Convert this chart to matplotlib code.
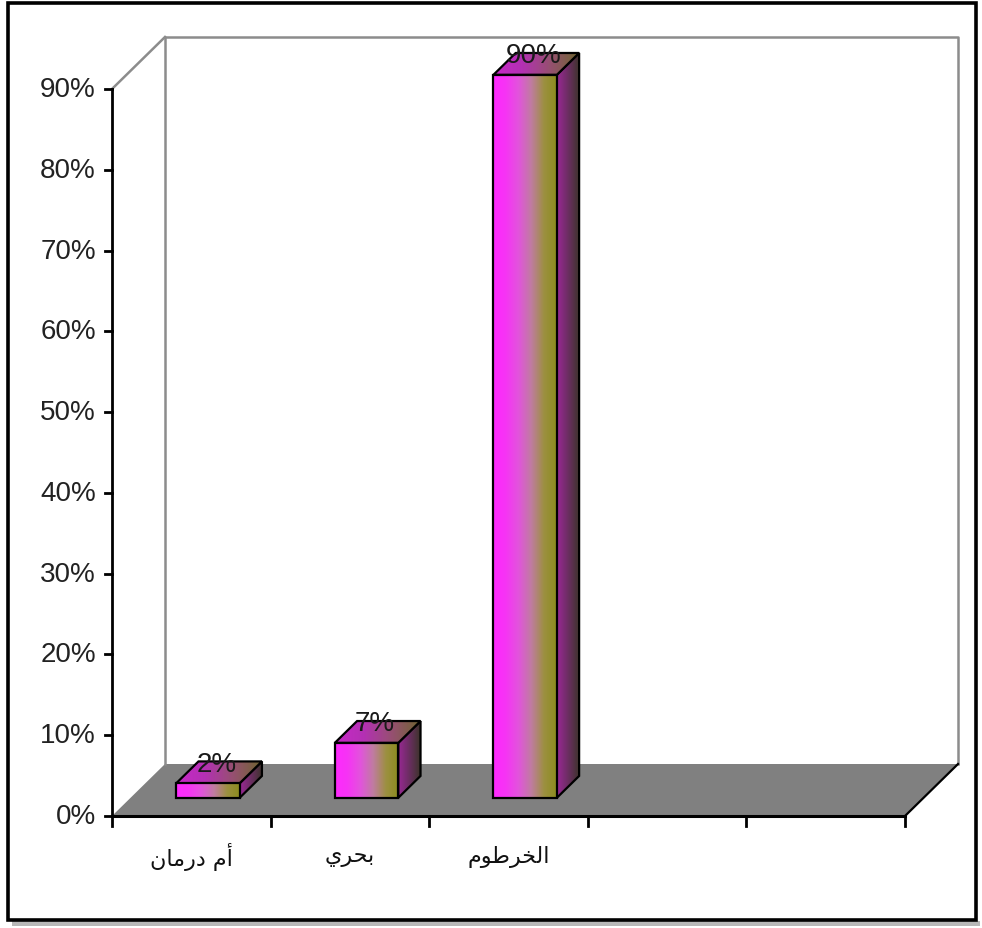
import numpy as np
import matplotlib.pyplot as plt
from matplotlib.colors import LinearSegmentedColormap
from matplotlib.patches import Polygon, Rectangle

# category names: أم درمان / بحري / الخرطوم
# (Arabic presentation forms in display order, matplotlib has no shaping)
categories = ['\uFEE5\uFE8E\uFEE3\uFEAD\uFEA9 \uFEE1\uFE83',
              '\uFEF1\uFEAE\uFEA4\uFE91',
              '\uFEE1\uFEEE\uFEC3\uFEAE\uFEA8\uFEDF\uFE8D']
values = [1.8, 6.8, 89.5]
value_labels = [f'{round(v)}%' for v in values]
yticks = [0, 10, 20, 30, 40, 50, 60, 70, 80, 90]
ytick_labels = [f'{t}%' for t in yticks]
n_slots = 5

W, H = 982, 929
PX_X = 158.6      # pixels per category slot
PX_Y = 8.078      # pixels per percent
X0_PX, Y0_PX = 112, 817   # front origin in pixels (from top-left)

DX = 53 / PX_X    # depth offset of the back wall
DY = 52 / PX_Y
f0, f1 = 0.35, 0.77   # bar front / back depth fraction
bar_w = 0.40

num_font = ['Liberation Sans Narrow', 'Liberation Sans', 'DejaVu Sans']

front_cm = LinearSegmentedColormap.from_list('front', ['#ff28ff', '#f634f4', '#e254dc', '#c07ca0', '#9c9040', '#8c8c1e'])
top_cm = LinearSegmentedColormap.from_list('top', ['#c828c8', '#b430b4', '#965070', '#6e6630'])
side_cm = LinearSegmentedColormap.from_list('side', ['#9a2896', '#6a2e60', '#3a3428'])

fig = plt.figure(figsize=(W / 100, H / 100), dpi=100)
ax = fig.add_axes([0, 0, 1, 1])
ax.axis('off')


def grad_fill(verts, cmap, z):
    poly = Polygon(verts, closed=True, fc='none', ec='black', lw=1.6, zorder=z + 0.5)
    ax.add_patch(poly)
    xs = [p[0] for p in verts]
    ys = [p[1] for p in verts]
    im = ax.imshow(np.linspace(0, 1, 256)[None, :], cmap=cmap, aspect='auto',
                   extent=[min(xs), max(xs), min(ys), max(ys)], origin='lower',
                   interpolation='bilinear', zorder=z)
    im.set_clip_path(poly)


# floor
floor = Polygon([(0, 0), (n_slots, 0), (n_slots + DX, DY), (DX, DY)], closed=True,
                fc='#808080', ec='none', zorder=1)
ax.add_patch(floor)
ax.plot([n_slots, n_slots + DX], [0, DY], color='black', lw=1.6, zorder=2)

# back wall outline
wall_c = '#8c8c8c'
ax.plot([DX, DX, n_slots + DX, n_slots + DX], [DY, 90 + DY, 90 + DY, DY], color=wall_c, lw=1.8, zorder=1)
ax.plot([0, DX], [90, 90 + DY], color=wall_c, lw=1.8, zorder=1)

# bars
for i, v in enumerate(values):
    xc = i + 0.5
    x0 = xc - bar_w / 2 + f0 * DX - 0.012
    x1 = x0 + bar_w
    y0 = f0 * DY
    y1 = v + f0 * DY
    bdx = (f1 - f0) * DX
    bdy = (f1 - f0) * DY
    grad_fill([(x1, y0), (x1 + bdx, y0 + bdy), (x1 + bdx, y1 + bdy), (x1, y1)], side_cm, 3)
    grad_fill([(x0, y1), (x1, y1), (x1 + bdx, y1 + bdy), (x0 + bdx, y1 + bdy)], top_cm, 4)
    grad_fill([(x0, y0), (x1, y0), (x1, y1), (x0, y1)], front_cm, 5)
    ax.text(xc + 0.5 * (f0 + f1) * DX - 0.03, v + f1 * DY - 0.3, value_labels[i],
            ha='center', va='center', fontsize=20, family=num_font, color='#1a1a1a', zorder=8)

# axes lines
ax.plot([0, 0], [0, 90], color='black', lw=2, zorder=6)
ax.plot([0, n_slots], [0, 0], color='black', lw=2.2, zorder=6)
for t, lab in zip(yticks, ytick_labels):
    ax.plot([-7 / PX_X, 0], [t, t], color='black', lw=2, zorder=6)
    ax.text(-16 / PX_X, t, lab, ha='right', va='center', fontsize=20,
            family=num_font, color='#222222')
for k in range(n_slots + 1):
    ax.plot([k, k], [0, -10 / PX_Y], color='black', lw=2, zorder=6)
for i, c in enumerate(categories):
    ax.text(i + 0.5, -40 / PX_Y, c, ha='center', va='center', fontsize=16,
            family=['DejaVu Sans'], color='#111111')

ax.set_xlim(-X0_PX / PX_X, (W - X0_PX) / PX_X)
ax.set_ylim(-(H - Y0_PX) / PX_Y, Y0_PX / PX_Y)

# outer frame with a soft shadow
fig.patches.append(Rectangle((12 / W, 1 - 927 / H), 968 / W, 5 / H, transform=fig.transFigure,
                             fc='#b8b8b8', ec='none', zorder=0))
fig.patches.append(Rectangle((8 / W, 1 - 921 / H), 968 / W, 917 / H, transform=fig.transFigure,
                             fc='none', ec='black', lw=2.6, zorder=10))

fig.savefig('out.png', dpi=100)
